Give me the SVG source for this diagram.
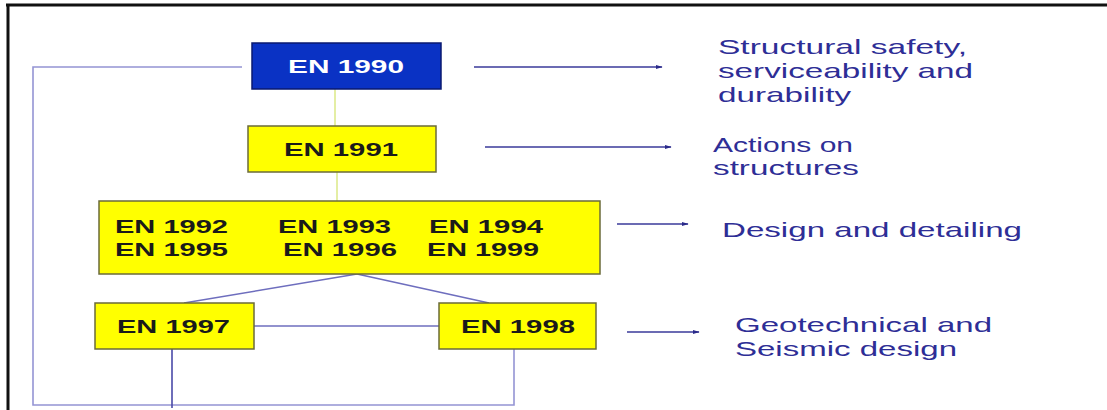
<svg xmlns="http://www.w3.org/2000/svg" width="1107" height="410" viewBox="0 0 1107 410">
<defs>
<style>
.box{fill:#ffff00;stroke:#6b6b3a;stroke-width:1.5}
.bt{font-family:"Liberation Sans",Arial,sans-serif;font-weight:bold;font-size:19px;fill:#1a1a1a}
.lbl{font-family:"Liberation Sans",Arial,sans-serif;font-size:21px;fill:#2e2e96}
.loop{fill:none;stroke:#9494d4;stroke-width:1.6}
.link{fill:none;stroke:#6e6ebe;stroke-width:1.5}
.pale{fill:none;stroke:#e4eea4;stroke-width:2}
.arr{fill:none;stroke:#3a3a9a;stroke-width:1.3;marker-end:url(#ah)}
</style>
<marker id="ah" viewBox="0 0 10 10" refX="9" refY="5" markerWidth="7" markerHeight="5" markerUnits="userSpaceOnUse" orient="auto" preserveAspectRatio="none">
<path d="M0,1 L10,5 L0,9 z" fill="#2a2a8a"/>
</marker>
</defs>
<rect x="0" y="0" width="1107" height="410" fill="#ffffff"/>
<g id="frame">
<line x1="6" y1="5" x2="1107" y2="5" stroke="#111" stroke-width="3"/>
<line x1="8" y1="4" x2="8" y2="410" stroke="#111" stroke-width="3"/>
</g>
<g id="connectors">
<path class="loop" d="M242,67 H33 V405 H514 V349"/>
<line x1="172" y1="349" x2="172" y2="408" stroke="#4a4aa8" stroke-width="1.6"/>
<line class="pale" x1="335" y1="89" x2="335" y2="126"/>
<line class="pale" x1="337" y1="172" x2="337" y2="201"/>
<line class="link" x1="357" y1="274" x2="184" y2="303"/>
<line class="link" x1="357" y1="274" x2="489" y2="303"/>
<line class="link" x1="254" y1="326" x2="439" y2="326"/>
<line class="arr" x1="474" y1="67" x2="662" y2="67"/>
<line class="arr" x1="485" y1="147" x2="671" y2="147"/>
<line class="arr" x1="617" y1="224" x2="688" y2="224"/>
<line class="arr" x1="627" y1="332" x2="699" y2="332"/>
</g>
<g id="en1990">
<rect x="252" y="43" width="189" height="46" fill="#0a32c4" stroke="#0a1a70" stroke-width="1.5"/>
<text class="bt" x="288" y="73" textLength="116" lengthAdjust="spacingAndGlyphs" style="fill:#ffffff">EN 1990</text>
</g>
<g id="en1991">
<rect class="box" x="248" y="126" width="188" height="46"/>
<text class="bt" x="284" y="156" textLength="114" lengthAdjust="spacingAndGlyphs">EN 1991</text>
</g>
<g id="en1992-1999">
<rect class="box" x="99" y="201" width="501" height="73"/>
<text class="bt" x="115" y="233" textLength="113" lengthAdjust="spacingAndGlyphs">EN 1992</text>
<text class="bt" x="278" y="233" textLength="113" lengthAdjust="spacingAndGlyphs">EN 1993</text>
<text class="bt" x="429" y="233" textLength="114" lengthAdjust="spacingAndGlyphs">EN 1994</text>
<text class="bt" x="115" y="256" textLength="113" lengthAdjust="spacingAndGlyphs">EN 1995</text>
<text class="bt" x="283" y="256" textLength="114" lengthAdjust="spacingAndGlyphs">EN 1996</text>
<text class="bt" x="427" y="256" textLength="112" lengthAdjust="spacingAndGlyphs">EN 1999</text>
</g>
<g id="en1997">
<rect class="box" x="95" y="303" width="159" height="46"/>
<text class="bt" x="117" y="333" textLength="113" lengthAdjust="spacingAndGlyphs">EN 1997</text>
</g>
<g id="en1998">
<rect class="box" x="439" y="303" width="157" height="46"/>
<text class="bt" x="461" y="333" textLength="114" lengthAdjust="spacingAndGlyphs">EN 1998</text>
</g>
<g id="labels">
<text class="lbl" x="718" y="54" textLength="249" lengthAdjust="spacingAndGlyphs">Structural safety,</text>
<text class="lbl" x="718" y="78" textLength="255" lengthAdjust="spacingAndGlyphs">serviceability and</text>
<text class="lbl" x="718" y="102" textLength="133" lengthAdjust="spacingAndGlyphs">durability</text>
<text class="lbl" x="713" y="152" textLength="140" lengthAdjust="spacingAndGlyphs">Actions on</text>
<text class="lbl" x="713" y="175" textLength="146" lengthAdjust="spacingAndGlyphs">structures</text>
<text class="lbl" x="722" y="237" textLength="300" lengthAdjust="spacingAndGlyphs">Design and detailing</text>
<text class="lbl" x="735" y="332" textLength="257" lengthAdjust="spacingAndGlyphs">Geotechnical and</text>
<text class="lbl" x="735" y="356" textLength="222" lengthAdjust="spacingAndGlyphs">Seismic design</text>
</g>
</svg>
